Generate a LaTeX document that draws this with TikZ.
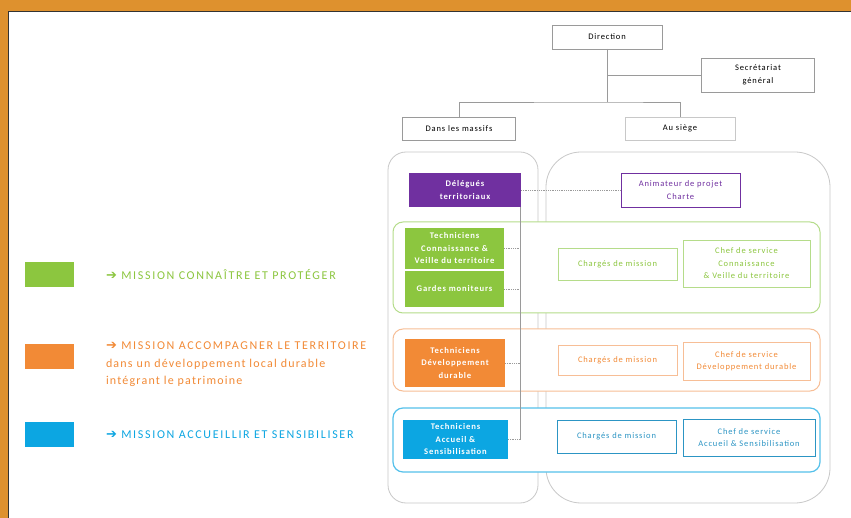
\documentclass[tikz,border=0pt]{standalone}
\usepackage{fontspec}
\setmainfont{Carlito}
\newfontfamily\symfont{DejaVu Sans}
\newfontfamily\legfont{Carlito}[LetterSpace=14]
\newfontfamily\subfont{Carlito}[LetterSpace=10]
\newfontfamily\boxfont{Carlito}[LetterSpace=10]
\definecolor{frameor}{HTML}{DE912E}
\definecolor{pgreen}{HTML}{8CC63F}
\definecolor{lgreen}{HTML}{B5DC8A}
\definecolor{porange}{HTML}{F28A36}
\definecolor{lorange}{HTML}{F7BE96}
\definecolor{pblue}{HTML}{0CA6E2}
\definecolor{dblue}{HTML}{2C95C4}
\definecolor{ppurple}{HTML}{7030A0}
\definecolor{gline}{HTML}{9A9A9A}
\definecolor{lgrey}{HTML}{C8C8C8}
\begin{document}
\begin{tikzpicture}[x=1pt,y=-1pt,
  every node/.style={inner sep=0pt,outer sep=0pt},
  box/.style={draw=#1,line width=0.8pt,fill=white,align=center,font=\boxfont\fontsize{8.5}{12.5}\selectfont},
  solid/.style={fill=#1,align=center,text=white,font=\boxfont\bfseries\fontsize{8.6}{12.5}\selectfont},
  conn/.style={draw=gline,line width=0.8pt},
  dconn/.style={draw=gline,line width=0.8pt,densely dotted},
  legend/.style={anchor=west,align=left,font=\legfont\fontsize{12}{17.5}\selectfont}]
\useasboundingbox (0,0) rectangle (851,518);
\fill[white] (0,0) rectangle (851,518);
% frame
\fill[frameor] (0,0) rectangle (851,11);
\fill[frameor] (0,0) rectangle (8,518);
\draw[black!80,line width=1pt] (8.5,518) -- (8.5,11.5) -- (851,11.5);

% big containers
\draw[lgrey,line width=0.8pt,rounded corners=18pt] (388,152) rectangle (538,503);
\draw[lgrey,line width=0.8pt,rounded corners=35pt] (546,152) rectangle (830,503);

% bands
\draw[lgreen,line width=1pt,fill=white,rounded corners=10pt] (393,222) rectangle (820,313);
\draw[lorange,line width=1pt,fill=white,rounded corners=10pt] (393,329) rectangle (820,391);
\draw[pblue!70,line width=1.2pt,fill=white,rounded corners=10pt] (393,408) rectangle (820,472);

% top hierarchy
\node[box=gline,minimum width=110pt,minimum height=24pt] (dir) at (607,37) {Direction};
\node[box=gline,minimum width=113pt,minimum height=34pt] (sec) at (758,75) {Secrétariat\\général};
\node[box=gline,minimum width=113pt,minimum height=23pt] (mas) at (459,128.5) {Dans les massifs};
\node[box=lgrey,minimum width=110pt,minimum height=23pt] (sie) at (680,128.5) {Au siège};
\coordinate (js) at (607,75);
\coordinate (j1) at (607,102);
\draw[conn] (dir.south) -- (j1);
\draw[conn] (js) -- (sec.west);
\draw[conn] (mas.north) |- (j1) -| (sie.north);

% purple row
\node[solid=ppurple,minimum width=112pt,minimum height=34pt] (del) at (465,190) {Délégués\\territoriaux};
\node[box=ppurple,text=ppurple,minimum width=119pt,minimum height=34pt] (ani) at (680.5,190) {Animateur de projet\\Charte};
\draw[dconn] (del.east) -- (ani.west);

% green row
\node[solid=pgreen,minimum width=99pt,minimum height=41pt] (tcv) at (454.5,248.5) {Techniciens\\Connaissance \&\\Veille du territoire};
\node[solid=pgreen,minimum width=99pt,minimum height=36pt] (gm) at (454.5,289) {Gardes moniteurs};
\node[box=lgreen,text=pgreen,minimum width=119pt,minimum height=32pt] (cmg) at (617.5,264) {Chargés de mission};
\node[box=lgreen,text=pgreen,minimum width=127pt,minimum height=47pt] (csg) at (746.5,263.5) {Chef de service\\Connaissance\\\& Veille du territoire};

% orange row
\node[solid=porange,minimum width=100pt,minimum height=48pt] (tdd) at (455,363) {Techniciens\\Développement\\durable};
\node[box=lorange,text=porange,minimum width=119pt,minimum height=30pt] (cmo) at (617.5,360) {Chargés de mission};
\node[box=lorange,text=porange,minimum width=127pt,minimum height=38pt] (cso) at (746.5,361) {Chef de service\\Développement durable};

% blue row
\node[solid=pblue,minimum width=105pt,minimum height=39pt] (tas) at (455.5,439.5) {Techniciens\\Accueil \&\\Sensibilisation};
\node[box=dblue,text=dblue,minimum width=119pt,minimum height=33pt] (cmb) at (616.5,436.5) {Chargés de mission};
\node[box=dblue,text=dblue,minimum width=132pt,minimum height=37pt] (csb) at (749,437.5) {Chef de service\\Accueil \& Sensibilisation};

% vertical link from délégués to technicians
\coordinate (vb) at (520,439.5);
\draw[conn] (del.south -| vb) -- (vb);
\draw[dconn] (tcv.east) -- (tcv.east -| vb);
\draw[dconn] (gm.east) -- (gm.east -| vb);
\draw[dconn] (tdd.east) -- (tdd.east -| vb);
\draw[dconn] (tas.east) -- (vb);

% legend
\fill[pgreen] (25,262) rectangle (74,287);
\fill[porange] (25,344) rectangle (74,369);
\fill[pblue] (25,422) rectangle (74,447);
\node[legend,text=pgreen] (lg) at (106,274.5) {{\symfont\fontsize{13}{13}\selectfont ➔}\ MISSION CONNAÎTRE ET PROTÉGER};
\node[legend,text=porange,anchor=north west] (lo) at (106,342) {{\symfont\fontsize{13}{13}\selectfont ➔}\ MISSION ACCOMPAGNER LE TERRITOIRE\\{\subfont\fontsize{12}{17.5}\selectfont dans un développement local durable}\\{\subfont\fontsize{12}{17.5}\selectfont intégrant le patrimoine}};
\node[legend,text=pblue] (lb) at (106,434.5) {{\symfont\fontsize{13}{13}\selectfont ➔}\ MISSION ACCUEILLIR ET SENSIBILISER};
\end{tikzpicture}
\end{document}
